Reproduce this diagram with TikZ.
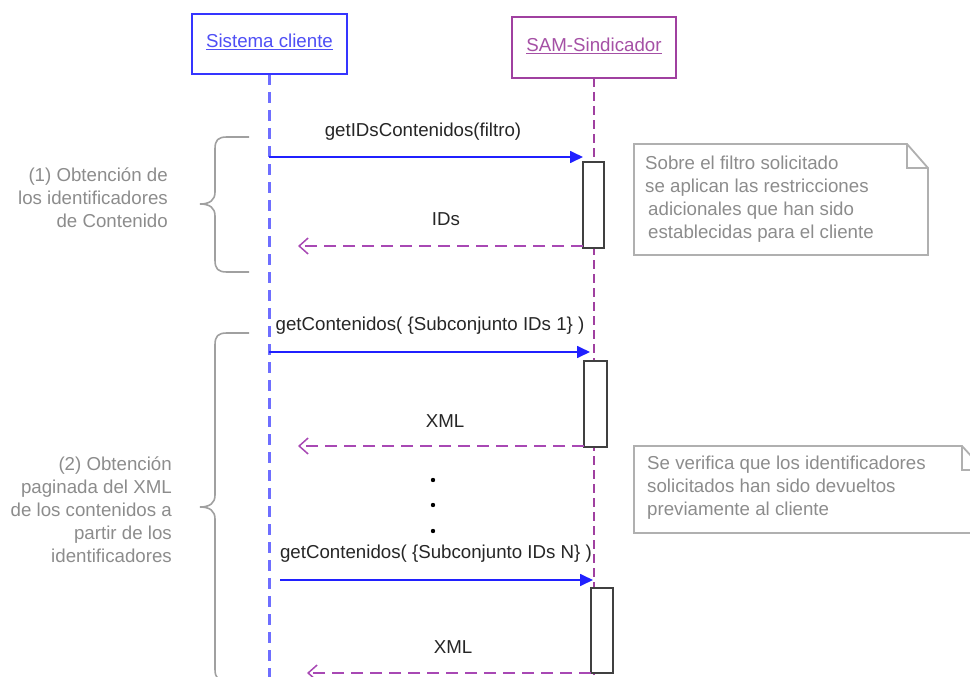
\documentclass[tikz,border=0pt]{standalone}
\usepackage{fontspec}
\setmainfont{Liberation Sans}
\usetikzlibrary{arrows.meta}
\definecolor{cliblue}{HTML}{3535FF}
\definecolor{clitext}{HTML}{4F4FF5}
\definecolor{clilife}{HTML}{6E6EFF}
\definecolor{callblue}{HTML}{2020FF}
\definecolor{sampurp}{HTML}{A040A0}
\definecolor{samtext}{HTML}{A550A5}
\definecolor{retpurp}{HTML}{A848B4}
\definecolor{graytext}{HTML}{8C8C8C}
\definecolor{notegray}{HTML}{B0B0B0}
\definecolor{bracegray}{HTML}{A0A0A0}
\tikzset{
  txt/.style={font=\fontsize{18.7}{23}\selectfont, inner sep=0pt},
  actorbox/.style={draw, line width=1.8pt, inner sep=0pt, fill=white},
  lifecli/.style={clilife, line width=3pt, dash pattern=on 11pt off 7pt},
  lifesam/.style={sampurp, line width=1.6pt, dash pattern=on 9pt off 5pt},
  actbox/.style={draw=black!75, line width=1.7pt, fill=white, inner sep=0pt},
  callarrow/.style={callblue, line width=1.7pt, -{Triangle[length=13pt,width=12pt]}},
  retarrow/.style={retpurp, line width=1.9pt, dash pattern=on 12pt off 7pt, -{Straight Barb[length=9pt,width=16pt,line width=1.5pt]}},
  notebox/.style={notegray, line width=1.8pt},
  notetxt/.style={txt, text=graytext, align=left, anchor=west},
  grouptxt/.style={txt, text=graytext, align=right, anchor=east},
  bracestyle/.style={bracegray, line width=1.6pt},
  msgtxt/.style={txt, text=black!85},
}
\begin{document}
\begin{tikzpicture}[x=1pt,y=-1pt]
\useasboundingbox (0,0) rectangle (970,677);

% lifelines
\coordinate (clitop) at (269,74);
\coordinate (clibot) at (269,677);
\coordinate (samtop) at (594,78);
\coordinate (sambot) at (594,677);
\draw[lifecli] (clitop) -- (clibot);
\draw[lifesam] (samtop) -- (sambot);

% actors
\node[actorbox, draw=cliblue, minimum width=155pt, minimum height=60pt] (cli) at (269.5,44) {};
\node[txt, text=clitext] (clilabel) at (269.5,42) {\underline{Sistema cliente}};
\node[actorbox, draw=sampurp, minimum width=164pt, minimum height=61pt] (sam) at (594,47.5) {};
\node[txt, text=samtext] (samlabel) at (594,46) {\underline{SAM-Sindicador}};

% activation boxes
\node[actbox, minimum width=21pt, minimum height=86pt] (act1) at (593.5,205) {};
\node[actbox, minimum width=23pt, minimum height=86pt] (act2) at (595.5,404) {};
\node[actbox, minimum width=22pt, minimum height=85pt] (act3) at (602,630.5) {};

% message 1
\coordinate (m1s) at (269,157);
\coordinate (m1e) at (583,157);
\draw[callarrow] (m1s) -- (m1e);
\node[msgtxt] (m1lab) at (423,132) {getIDsContenidos(filtro)};
\coordinate (r1s) at (583,246);
\coordinate (r1e) at (298,246);
\draw[retarrow] (r1s) -- (r1e);
\node[msgtxt] (r1lab) at (446,219) {IDs};

% message 2
\coordinate (m2s) at (269,352);
\coordinate (m2e) at (590,352);
\draw[callarrow] (m2s) -- (m2e);
\node[msgtxt] (m2lab) at (430,326) {getContenidos( \{Subconjunto IDs 1\} )};
\coordinate (r2s) at (584,446);
\coordinate (r2e) at (298,446);
\draw[retarrow] (r2s) -- (r2e);
\node[msgtxt] (r2lab) at (445,421) {XML};

% dots
\fill[black] (433,480) circle (2.2pt);
\fill[black] (433,505) circle (2.2pt);
\fill[black] (433,531) circle (2.2pt);

% message N
\coordinate (m3s) at (280,580);
\coordinate (m3e) at (593,580);
\draw[callarrow] (m3s) -- (m3e);
\node[msgtxt] (m3lab) at (436,554) {getContenidos( \{Subconjunto IDs N\} )};
\coordinate (r3s) at (591,673);
\coordinate (r3e) at (307,673);
\draw[retarrow] (r3s) -- (r3e);
\node[msgtxt] (r3lab) at (453,647) {XML};

% braces
\draw[bracestyle] (249,137) -- (227,137) .. controls (218,137) and (215,140) .. (215,149)
  -- (215,192) .. controls (215,200) and (210,204) .. (200,204)
  .. controls (210,204) and (215,208) .. (215,216)
  -- (215,260) .. controls (215,269) and (218,272) .. (227,272) -- (249,272);
\draw[bracestyle] (249,333) -- (227,333) .. controls (218,333) and (215,336) .. (215,345)
  -- (215,495) .. controls (215,503) and (210,507) .. (200,507)
  .. controls (210,507) and (215,511) .. (215,519)
  -- (215,669) .. controls (215,678) and (218,681) .. (227,681) -- (249,681);

% group labels
\node[grouptxt] (g1) at (168,198) {(1) Obtención de\\los identificadores\\de Contenido};
\node[grouptxt] (g2) at (172,510) {(2) Obtención\\paginada del XML\\de los contenidos a\\partir de los\\identificadores};

% note 1
\draw[notebox] (634,144) -- (907,144) -- (928,168) -- (928,255) -- (634,255) -- cycle;
\draw[notebox] (907,144) -- (907,168) -- (928,168);
\node[notetxt] (n1) at (645,199) {Sobre el filtro solicitado\\se aplican las restricciones\\\hspace{3pt}adicionales que han sido\\\hspace{3pt}establecidas para el cliente};

% note 2
\draw[notebox] (634,446) -- (962,446) -- (984,470) -- (984,533) -- (634,533) -- cycle;
\draw[notebox] (962,446) -- (962,470) -- (984,470);
\node[notetxt] (n2) at (647,488) {Se verifica que los identificadores\\solicitados han sido devueltos\\previamente al cliente};
\end{tikzpicture}
\end{document}
